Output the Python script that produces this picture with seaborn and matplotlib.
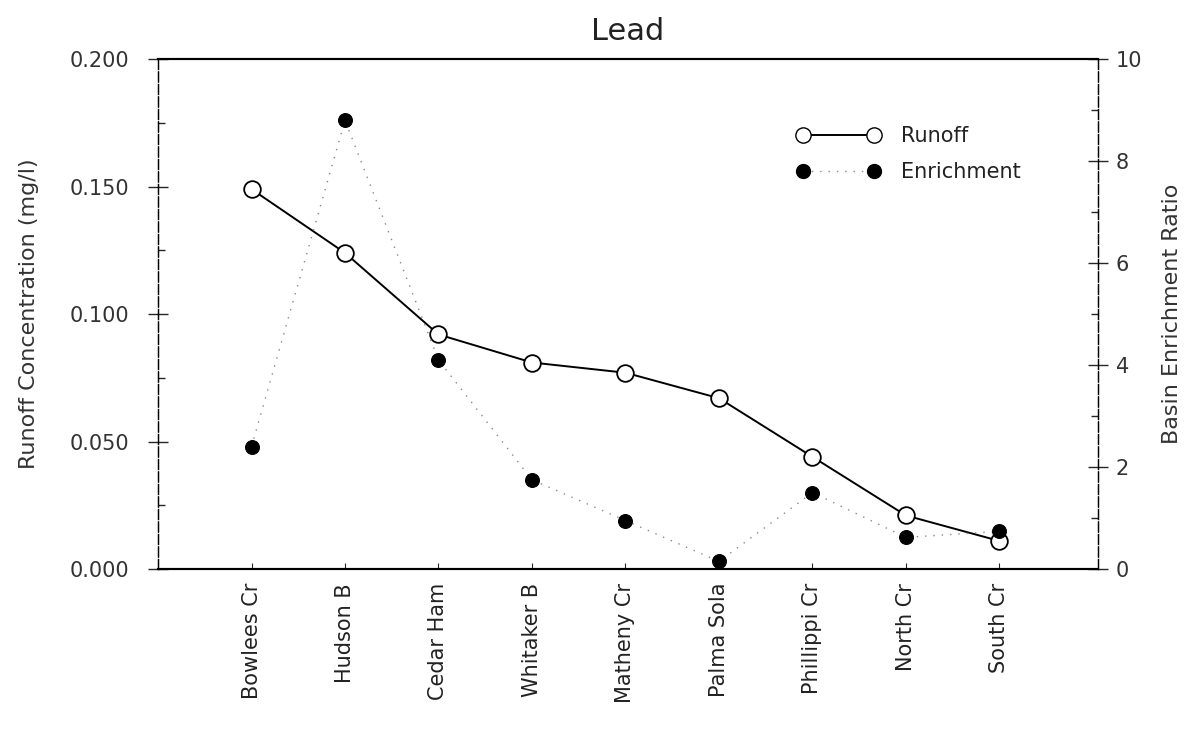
import matplotlib
matplotlib.use("Agg")
import matplotlib.pyplot as plt
import seaborn as sns
import pandas as pd
import numpy as np
from matplotlib.ticker import MultipleLocator
from matplotlib.lines import Line2D

sites = ["Bowlees Cr", "Hudson B", "Cedar Ham", "Whitaker B", "Matheny Cr",
         "Palma Sola", "Phillippi Cr", "North Cr", "South Cr"]
runoff = [0.149, 0.124, 0.092, 0.081, 0.077, 0.067, 0.044, 0.021, 0.011]
enrichment = [2.4, 8.8, 4.1, 1.75, 0.95, 0.15, 1.5, 0.62, 0.74]

left_ticks = [0.000, 0.050, 0.100, 0.150, 0.200]
right_ticks = [0, 2, 4, 6, 8, 10]

sns.set_theme(style="white")
plt.rcParams['font.family'] = ['DejaVu Sans']

df = pd.DataFrame({"pos": np.arange(len(sites)), "site": sites,
                   "runoff": runoff, "enrichment": enrichment})

fig = plt.figure(figsize=(11.97, 7.39), dpi=100)
ax = fig.add_axes([0.132, 0.230, 0.785, 0.690])
ax2 = ax.twinx()

sns.lineplot(data=df, x="pos", y="runoff", ax=ax, color="black", lw=1.4,
             marker="o", markersize=12, markerfacecolor="white",
             markeredgecolor="black", markeredgewidth=1.3, zorder=3)
sns.lineplot(data=df, x="pos", y="enrichment", ax=ax2, color="#888888", lw=1.0,
             linestyle=(0, (1, 5)), marker="o", markersize=10,
             markerfacecolor="black", markeredgecolor="black", zorder=2)

ax.set_xlim(-1, 9.05)
ax.set_ylim(0, 0.2)
ax2.set_ylim(0, 10)

ax.set_xticks(df["pos"])
ax.set_xticklabels(sites, rotation=90, fontsize=15, color="#222222")
ax.set_yticks(left_ticks)
ax.set_yticklabels([f"{v:.3f}" for v in left_ticks], fontsize=15, color="#333333")
ax.yaxis.set_minor_locator(MultipleLocator(0.025))
ax2.set_yticks(right_ticks)
ax2.set_yticklabels([str(v) for v in right_ticks], fontsize=15, color="#333333")
ax2.yaxis.set_minor_locator(MultipleLocator(1))

ax.tick_params(axis="x", direction="in", length=4, width=0.8, pad=10, bottom=True)
ax.tick_params(axis="y", which="major", direction="inout", length=14, width=1.0, left=True, pad=14)
ax.tick_params(axis="y", which="minor", direction="in", length=5, width=1.0, left=True)
ax2.tick_params(axis="y", which="major", direction="inout", length=14, width=1.0, right=True, pad=6)
ax2.tick_params(axis="y", which="minor", direction="in", length=5, width=1.0, right=True)

ax.set_xlabel("")
ax.set_ylabel("Runoff Concentration (mg/l)", fontsize=16, color="#333333", labelpad=22)
ax2.set_ylabel("Basin Enrichment Ratio", fontsize=16, color="#333333", labelpad=14)
ax.set_title("Lead", fontsize=22, color="#222222", pad=14)

for a in (ax, ax2):
    a.spines["top"].set_linewidth(1.5)
    a.spines["bottom"].set_linewidth(1.5)
    a.spines["left"].set_linewidth(0.9)
    a.spines["right"].set_linewidth(0.9)
    a.spines["left"].set_linestyle((0, (8, 2)))
    a.spines["right"].set_linestyle((0, (8, 2)))
    for s in a.spines.values():
        s.set_color("black")
ax2.grid(False)
ax.grid(False)

h1 = Line2D([], [], color="black", lw=1.4, marker="o", markersize=11,
            markerfacecolor="white", markeredgecolor="black")
h2 = Line2D([], [], color="#888888", lw=1.0, linestyle=(0, (1, 5)), marker="o",
            markersize=10, markerfacecolor="black", markeredgecolor="black")
leg = ax2.legend([h1, h2], ["Runoff", "Enrichment"], numpoints=2, frameon=False,
                 loc="upper left", bbox_to_anchor=(0.66, 0.905), fontsize=15,
                 handlelength=4.0, handletextpad=1.0, labelspacing=0.75)
for t in leg.get_texts():
    t.set_color("#222222")

fig.savefig("out.png", dpi=100, facecolor="white")
